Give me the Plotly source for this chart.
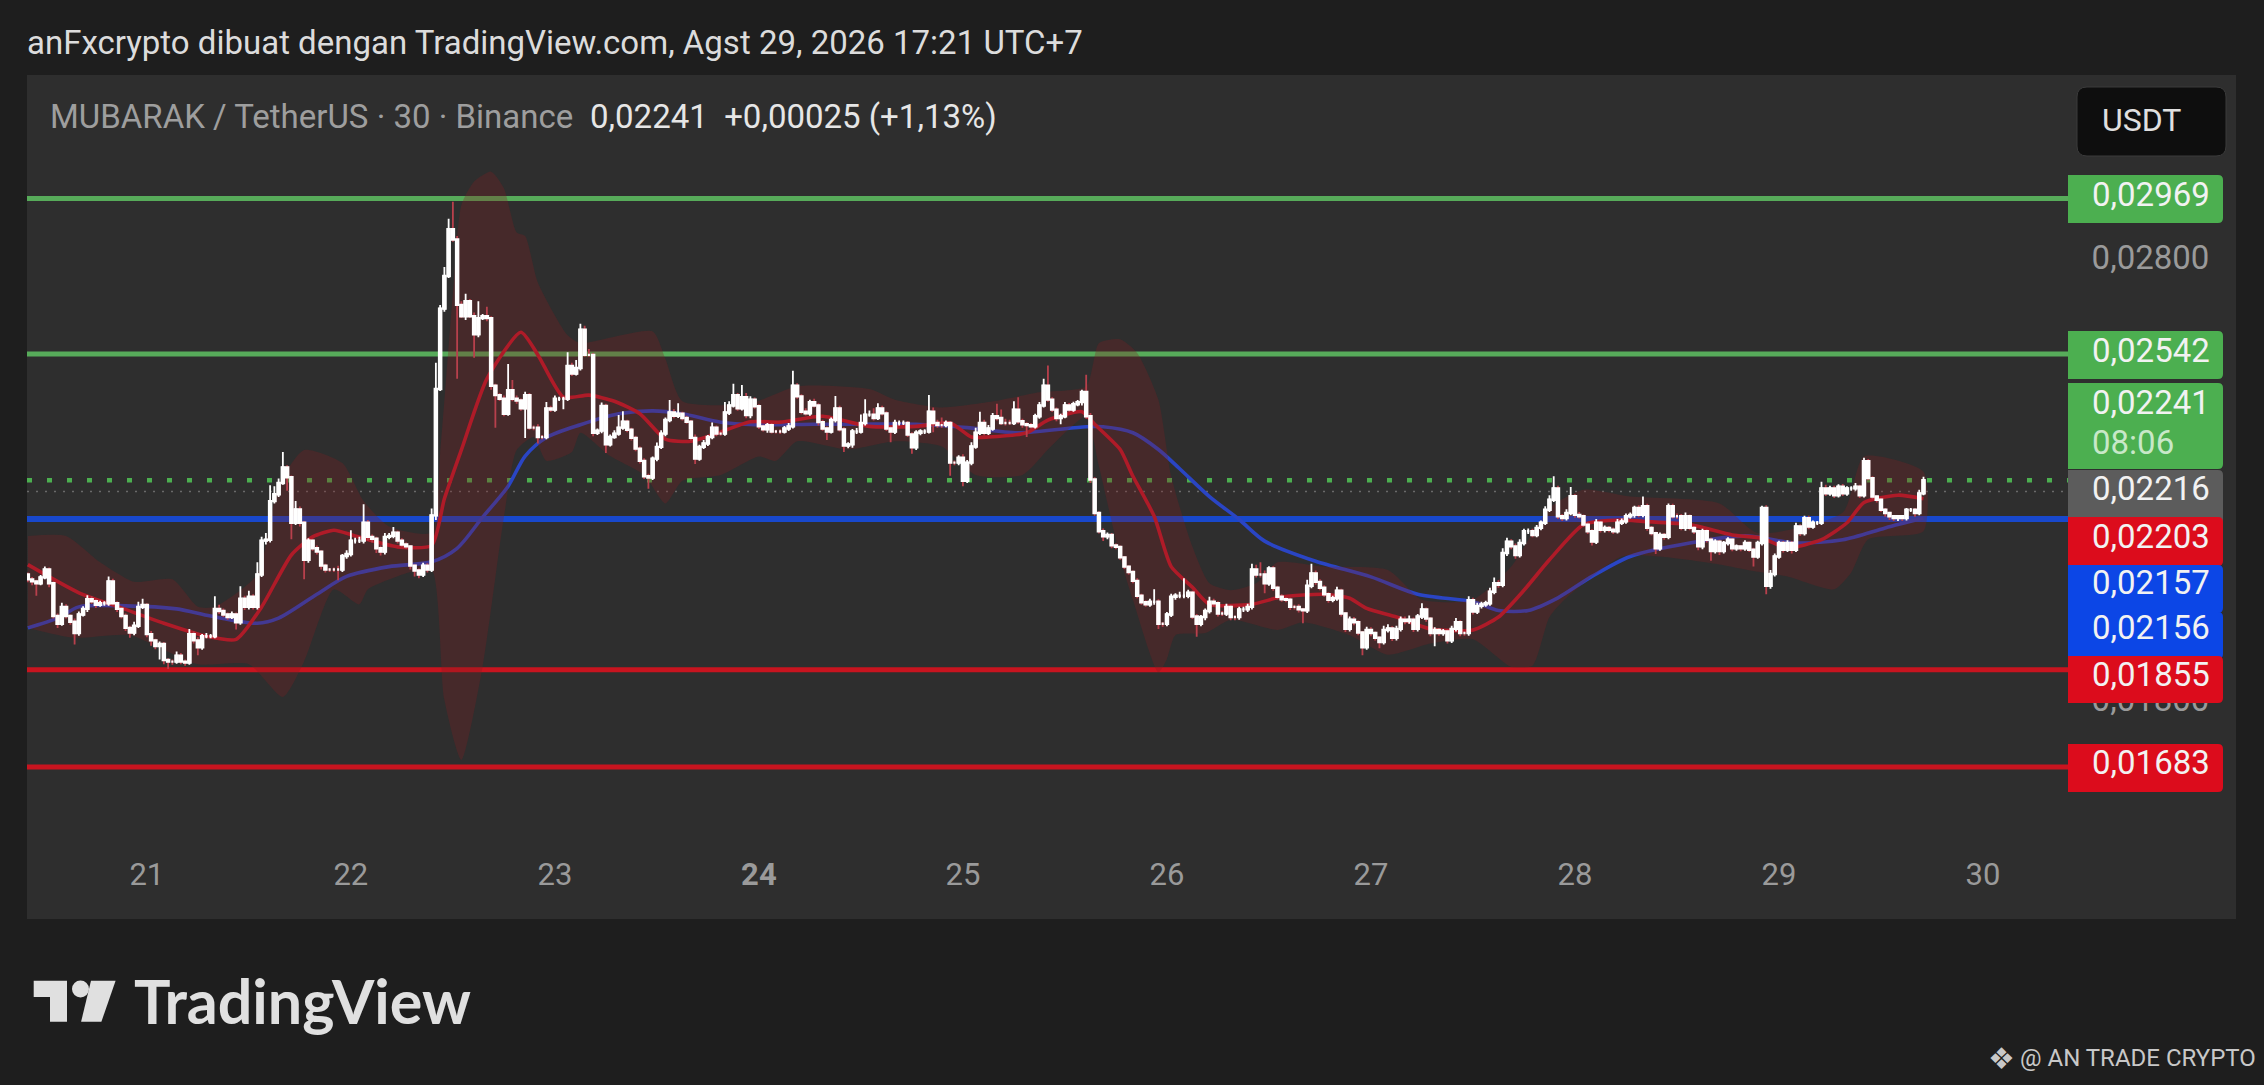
import math

import pandas as pd
import plotly.graph_objects as go

# all prices below are in 0.00001 USDT
closes = [
    2030,2026,
    2022,2034,2050,2022,1957,1942,1975,1957,1946,1924,1960,1971,1990,1986,1979,1982,1982,2026,1982,1971,
    1957,1934,1925,1938,1975,1979,1922,1910,1899,1903,1873,1870,1870,1881,1870,1868,1922,1910,1897,1918,
    1918,1918,1971,1967,1960,1955,1960,1945,1991,1975,1995,1975,2040,2110,2112,2195,2210,2235,2270,2248,
    2148,2177,2148,2070,2110,2094,2087,2058,2050,2050,2050,2050,2078,2082,2110,2110,2110,2148,2118,2114,
    2094,2087,2118,2120,2127,2110,2102,2098,2058,2048,2040,2058,2050,2164,2455,2660,2748,2880,2850,2670,
    2640,2680,2640,2593,2635,2640,2635,2463,2440,2431,2395,2452,2431,2427,2408,2440,2362,2362,2340,2340,
    2408,2405,2431,2431,2431,2512,2493,2507,2605,2540,2540,2350,2355,2414,2323,2340,2348,2362,2376,2357,
    2338,2313,2285,2250,2247,2290,2317,2348,2380,2398,2390,2395,2385,2376,2338,2290,2317,2325,2340,2362,
    2348,2348,2398,2415,2440,2408,2435,2392,2429,2413,2365,2358,2368,2353,2353,2353,2360,2365,
    2463,2437,2400,2396,2423,2415,2375,2360,2353,2380,2408,2358,2320,2323,2353,2353,2373,2393,2393,2385,
    2408,2396,2360,2353,2373,2373,2373,2346,2316,2350,2353,2353,2400,2373,2368,2368,2373,2281,2281,2292,
    2240,2281,2318,2350,2373,2350,2360,2389,2385,2373,2373,2373,2405,2377,2370,2368,2365,2389,2415,2463,
    2429,2405,2385,2389,2415,2405,2418,2423,2448,2389,2243,2169,2130,2119,2122,2100,2097,2075,2056,2045,
    2027,1997,1984,1980,1985,1985,1942,1942,1960,1995,1997,1997,1997,2003,1956,1942,1955,1967,1985,1982,
    1962,1962,1975,1955,1955,1970,1970,1975,2050,2040,2040,2022,2052,2013,1995,1990,1989,1975,1975,1970,
    1968,2017,2042,2025,2013,2000,1989,1992,2007,1962,1932,1950,1945,1925,1897,1930,1924,1915,1907,1930,
    1933,1915,1932,1950,1947,1950,1932,1956,1970,1952,1924,1930,1924,1927,1910,1932,1945,1924,1924,1988,
    1966,1977,1980,1982,2005,2022,2019,2084,2108,2098,2080,2105,2130,2130,2122,2137,2148,2176,2198,2223,
    2162,2158,2169,2206,2165,2162,2144,2130,2108,2148,2133,2137,2133,2130,2148,2151,2162,2165,2180,2165,
    2184,2137,2126,2094,2122,2118,2184,2162,2162,2137,2162,2137,2130,2098,2130,2112,2088,2108,2088,2105,
    2112,2094,2098,2094,2105,2091,2077,2105,2180,2017,2041,2077,2105,2091,2105,2091,2140,2126,2158,2140,
    2148,2148,2223,2212,2223,2208,2227,2212,2223,2223,2227,2208,2284,2246,2205,2198,2176,2169,2162,2158,
    2162,2158,2176,2176,2169,2212,2241,
]
upper_wicks = [
    4,5,
    3,5,6,4,4,5,8,5,3,6,6,5,8,6,4,5,4,10,5,4,
    3,5,4,8,10,12,3,6,3,5,4,3,4,8,5,4,10,5,6,4,
    6,4,25,8,5,4,6,4,25,6,12,5,25,8,14,35,18,10,35,5,
    4,18,6,4,5,3,6,3,4,3,4,8,4,8,22,6,8,40,6,5,
    4,6,8,6,12,4,5,4,3,3,4,6,5,15,65,10,25,30,80,10,
    10,20,6,10,45,6,25,5,5,5,8,65,25,8,5,8,5,5,8,5,
    15,6,8,5,5,35,8,20,15,10,15,5,5,8,5,6,8,30,25,5,
    5,5,5,6,6,5,10,8,6,30,8,25,5,5,4,8,5,8,5,12,
    5,5,25,10,28,5,30,10,8,5,5,4,5,5,4,5,6,8,
    37,6,5,8,6,8,5,6,5,6,30,6,5,5,6,8,20,37,10,15,
    12,6,5,5,8,6,6,5,5,6,5,5,40,10,8,18,6,5,5,6,
    8,6,10,12,27,8,8,8,30,20,10,8,20,30,6,5,5,6,8,17,
    50,6,5,6,8,6,6,5,5,42,8,5,4,6,5,4,4,3,3,3,
    3,5,4,4,6,25,5,3,5,6,5,8,35,6,4,5,4,5,10,6,
    4,5,6,4,3,5,5,6,12,10,25,8,5,5,4,5,4,4,4,5,
    3,12,20,6,5,5,4,5,8,4,3,6,5,4,3,6,5,3,3,8,
    8,4,6,6,6,8,4,5,12,4,3,5,4,5,4,6,8,4,3,8,
    5,6,5,5,8,12,6,10,8,5,6,8,5,6,5,6,5,8,10,27,
    6,5,8,20,4,6,4,5,4,8,4,5,4,5,8,6,6,5,5,6,
    21,5,4,3,5,4,6,5,6,5,8,4,4,3,5,4,4,5,4,4,
    5,3,4,3,6,3,4,5,5,6,8,6,5,4,6,4,8,5,5,5,
    5,4,15,8,6,6,5,6,5,5,8,4,8,5,4,3,3,4,3,3,
    3,3,4,4,4,8,8,
]
lower_wicks = [
    6,8,
    25,4,4,8,5,8,4,5,6,22,5,4,6,5,6,4,5,5,4,6,
    5,6,10,5,4,4,6,10,6,25,8,14,6,4,5,6,4,6,15,5,
    4,4,4,6,5,5,4,14,5,6,5,5,5,5,8,6,5,6,4,30,
    35,5,8,40,6,5,6,8,6,5,5,22,5,6,5,6,5,6,8,8,
    10,8,6,5,5,6,5,5,8,12,8,5,6,5,10,5,8,5,6,190,
    5,10,5,60,8,5,8,10,78,5,6,5,6,8,6,70,5,6,15,5,
    5,6,5,5,25,5,6,5,6,5,5,8,5,6,20,5,4,5,5,6,
    6,6,6,6,25,5,6,5,6,5,6,5,6,5,6,12,5,5,6,5,
    6,5,5,6,5,6,5,8,8,6,6,5,8,5,5,6,5,6,
    5,6,6,5,6,5,8,5,20,5,6,5,15,6,8,6,5,6,5,6,
    5,5,6,25,6,6,5,6,15,6,6,6,5,22,6,6,5,30,6,6,
    12,5,6,5,5,6,5,5,6,5,6,5,5,6,8,28,5,5,6,5,
    5,6,8,15,5,6,5,5,8,6,8,6,5,10,6,6,5,5,5,5,
    5,5,5,5,5,6,10,6,5,5,6,5,5,5,5,25,5,6,5,6,
    6,5,5,6,6,5,5,5,5,6,6,20,5,6,5,5,5,6,5,6,
    25,5,5,6,5,5,6,5,5,6,6,5,6,5,15,5,6,5,12,5,
    5,6,5,5,6,5,6,5,5,6,6,25,5,5,6,5,5,6,5,5,
    6,5,5,5,5,5,6,5,6,6,8,5,5,6,5,5,5,5,5,5,
    6,6,5,5,6,5,5,6,8,5,6,6,5,6,5,5,5,5,6,5,
    5,6,5,12,5,6,5,5,6,5,6,5,6,8,6,6,20,5,8,5,
    5,6,5,6,5,5,21,5,5,17,6,5,5,6,5,8,5,6,5,6,
    5,5,5,6,5,6,5,6,5,5,5,6,5,5,6,6,5,8,8,6,
    6,6,5,5,8,5,4,
]
assert len(closes) == len(upper_wicks) == len(lower_wicks) == 447

fast_idx = [0,12,22,32,42,49,55,62,67,72,77,87,95,98,102,108,116,120,126,132,138,144,150,156,162,170,
            177,187,198,209,217,222,226,235,240,248,251,257,260,265,269,274,278,288,295,305,311,315,322,330,340,
            346,352,358,366,375,380,391,401,408,414,422,428,432,440,446]
fast_ma = [2060,2003,1973,1943,1918,1912,1975,2080,2118,2132,2120,2097,2100,2200,2310,2480,2598,2540,2435,2440,2425,2395,2335,2330,2348,2376,
           2375,2389,2365,2365,2373,2340,2340,2350,2380,2400,2370,2311,2250,2162,2056,2014,1980,1980,1995,2000,1992,1972,1955,1932,1930,
           1955,2008,2070,2144,2154,2151,2144,2122,2115,2095,2112,2148,2192,2208,2200]
slow_idx = [0,7,12,23,35,43,54,59,68,75,85,95,101,107,113,117,122,130,139,147,154,163,171,
            185,195,209,221,233,249,253,260,266,271,278,285,291,303,316,327,340,346,353,360,368,377,391,404,416,427,437,446]
slow_ma = [1934,1953,1975,1977,1971,1957,1943,1953,2000,2036,2056,2066,2094,2160,2228,2296,2339,2369,2395,2402,2395,2375,2369,
           2370,2370,2370,2362,2350,2364,2364,2350,2311,2267,2205,2155,2109,2067,2035,2000,1985,1968,1968,1993,2036,2077,2105,2120,2105,2112,2137,2158]
band_up_idx = [0,9,17,25,34,40,44,54,59,65,74,79,85,95,97,100,102,105,109,112,115,117,120,127,130,147,150,154,170,
               181,198,204,215,226,238,249,252,257,261,266,269,274,278,283,289,294,305,320,328,340,349,358,366,377,398,407,427,432,446]
band_up = [2120,2120,2065,2025,2030,1975,1975,2040,2230,2310,2280,2195,2140,2127,2300,2700,2950,3020,3050,3000,2870,2860,2730,2590,2570,2600,2530,2425,2420,
           2462,2455,2429,2410,2423,2447,2462,2570,2580,2545,2429,2250,2097,2022,2008,2022,2065,2056,2049,1989,1989,2056,2180,2220,2205,2190,2126,2170,2295,2260]
band_lo_idx = [0,11,24,40,52,60,65,72,78,80,90,95,98,102,107,112,115,119,122,128,130,137,145,150,154,163,172,
               176,181,193,204,215,223,234,240,244,249,252,257,260,266,268,270,277,283,294,300,311,320,330,340,349,354,358,362,375,384,397,406,414,425,429,433,446]
band_lo = [1934,1915,1920,1865,1865,1805,1870,2010,1980,2010,2045,2050,1800,1695,1860,2160,2310,2340,2285,2305,2350,2296,2253,2190,2240,2253,2295,
           2285,2330,2311,2330,2318,2253,2253,2311,2350,2389,2273,2075,1989,1850,1875,1920,1924,1950,1930,1945,1920,1883,1904,1912,1860,1862,1955,1993,2077,2077,2062,2047,2036,2010,2044,2113,2130]

green_levels = [0.02969, 0.02542]
red_levels = [0.01855, 0.01683]
blue_level = [0.02156]
last_price = [0.02241]
prev_close = [0.02216]
axis_ticks = [0.028, 0.018]
axis_labels = ["0,02800", "0,01800"]
days = ["2026-08-%d" % d for d in range(21, 31)]
day_labels = ["21", "22", "23", "<b>24</b>", "25", "26", "27", "28", "29", "30"]

W, H = 2264, 1085
L, R, T, B = 27, 2068, 75, 853
BG = "#1e1e1e"
PANEL = "#2e2e2e"
GREEN, RED, BLUE, GREY = "#4caf50", "#dc0c1c", "#0c46e6", "#5c5c5c"
FONT = "Roboto"

times = pd.date_range("2026-08-20 10:00", periods=len(closes), freq="30min")
x_range = ["2026-08-20 09:54", "2026-08-30 10:00"]


def px(v):
    return (v - L) / (R - L)


def py(v):
    return (B - v) / (B - T)


# log10 range worked out from where the 0.02969 line sits and the px per ln(price)
k = 1001.5
y_top = math.log10(0.02969 * math.exp((198.6 - T) / k))
y_bot = math.log10(0.02969 * math.exp((198.6 - B) / k))

fig = go.Figure()

for lev in green_levels:
    fig.add_trace(go.Scatter(x=x_range, y=[lev, lev], mode="lines", line=dict(color="#57ab5a", width=5)))
for lev in red_levels:
    fig.add_trace(go.Scatter(x=x_range, y=[lev, lev], mode="lines", line=dict(color="#c8141f", width=5)))
fig.add_trace(go.Scatter(x=x_range, y=blue_level * 2, mode="lines", line=dict(color="#1848cc", width=6)))
fig.add_trace(go.Scatter(x=x_range, y=last_price * 2, mode="lines", line=dict(color="#4caf50", width=4.5, dash="5px,15px")))
fig.add_trace(go.Scatter(x=x_range, y=prev_close * 2, mode="lines", line=dict(color="#6a6a6a", width=1.5, dash="2px,7px")))

fig.add_trace(go.Scatter(x=[times[i] for i in slow_idx], y=[v / 1e5 for v in slow_ma], mode="lines",
                         line=dict(color="#2a45c4", width=3.6, shape="spline", smoothing=0.8)))
fig.add_trace(go.Scatter(x=[times[i] for i in fast_idx], y=[v / 1e5 for v in fast_ma], mode="lines",
                         line=dict(color="#c41a2c", width=3.6, shape="spline", smoothing=0.6)))
band_x = [times[i] for i in band_up_idx] + [times[i] for i in band_lo_idx[::-1]]
band_y = [v / 1e5 for v in band_up] + [v / 1e5 for v in band_lo[::-1]]
fig.add_trace(go.Scatter(x=band_x, y=band_y, mode="lines", fill="toself", fillcolor="rgba(126,29,32,0.30)",
                         line=dict(width=0, shape="spline", smoothing=0.6)))

opens = [2040] + closes[:-1]
highs = [max(o, c) + u for o, c, u in zip(opens, closes, upper_wicks)]
lows = [min(o, c) - d for o, c, d in zip(opens, closes, lower_wicks)]
# candles sit on an overlaying pair of axes, else the scatter layer (band) paints over them
# first pass gives the wicks, second pass puts a white body on top
fig.add_trace(go.Candlestick(x=times, open=[v / 1e5 for v in opens], close=[v / 1e5 for v in closes],
                             high=[v / 1e5 for v in highs], low=[v / 1e5 for v in lows], whiskerwidth=0,
                             xaxis="x2", yaxis="y2",
                             increasing=dict(line=dict(color="#ffffff", width=1.8), fillcolor="#ffffff"),
                             decreasing=dict(line=dict(color="#b8404c", width=1.8), fillcolor="#ffffff")))
fig.add_trace(go.Candlestick(x=times, open=[v / 1e5 for v in opens], close=[v / 1e5 for v in closes],
                             high=[max(o, c) / 1e5 for o, c in zip(opens, closes)],
                             low=[min(o, c) / 1e5 for o, c in zip(opens, closes)], whiskerwidth=0,
                             xaxis="x2", yaxis="y2",
                             increasing=dict(line=dict(color="#ffffff", width=2.4), fillcolor="#ffffff"),
                             decreasing=dict(line=dict(color="#ffffff", width=2.4), fillcolor="#ffffff")))


def round_rect(x0, y0, x1, y1, color, r=5, layer="above"):
    # pixel box to a paper path with rounded right corners
    rx, ry = r / (R - L), r / (B - T)
    a, b, c, d = px(x0), px(x1), py(y0), py(y1)
    path = (f"M{a},{c} L{b - rx},{c} Q{b},{c} {b},{c - ry} L{b},{d + ry} Q{b},{d} {b - rx},{d} L{a},{d} Z")
    return dict(type="path", path=path, xref="paper", yref="paper", fillcolor=color, line=dict(width=0), layer=layer)


shapes = [dict(type="rect", xref="paper", yref="paper", x0=px(27), x1=px(2236), y0=py(75), y1=py(919),
               fillcolor=PANEL, line=dict(width=0), layer="below")]
label_x0, label_x1 = 2068, 2223
for y0, y1, col in [(175, 223, GREEN), (331, 379, GREEN), (470, 534, GREY), (383, 469, GREEN), (517, 566, RED),
                    (565, 613, BLUE), (612, 659, BLUE), (656, 703, RED), (744, 792, RED)]:
    shapes.append(round_rect(label_x0, y0, label_x1, y1, col))
# USDT button
bx0, bx1, by0, by1 = 2077, 2226, 87, 156
rx, ry = 10 / (R - L), 10 / (B - T)
shapes.append(dict(type="path", xref="paper", yref="paper", fillcolor="#0e0e0e", line=dict(color="#3a3a3a", width=1),
                   path=f"M{px(bx0) + rx},{py(by0)} L{px(bx1) - rx},{py(by0)} Q{px(bx1)},{py(by0)} {px(bx1)},{py(by0) - ry} "
                        f"L{px(bx1)},{py(by1) + ry} Q{px(bx1)},{py(by1)} {px(bx1) - rx},{py(by1)} "
                        f"L{px(bx0) + rx},{py(by1)} Q{px(bx0)},{py(by1)} {px(bx0)},{py(by1) + ry} "
                        f"L{px(bx0)},{py(by0) - ry} Q{px(bx0)},{py(by0)} {px(bx0) + rx},{py(by0)} Z"))
# logo mark
logo = "#e0e0e0"
shapes.append(dict(type="path", xref="paper", yref="paper", fillcolor=logo, line=dict(width=0),
                   path=f"M{px(33.7)},{py(980.7)} L{px(67)},{py(980.7)} L{px(67)},{py(1021.7)} L{px(50)},{py(1021.7)} "
                        f"L{px(50)},{py(997)} L{px(33.7)},{py(997)} Z"))
shapes.append(dict(type="circle", xref="paper", yref="paper", fillcolor=logo, line=dict(width=0),
                   x0=px(72), x1=px(89), y0=py(997.5), y1=py(980.5)))
shapes.append(dict(type="path", xref="paper", yref="paper", fillcolor=logo, line=dict(width=0),
                   path=f"M{px(91)},{py(980.7)} L{px(115.6)},{py(980.7)} L{px(101.4)},{py(1021.7)} L{px(81.1)},{py(1021.7)} Z"))


def text(x, y, s, size=33, color="#ffffff", anchor="left", family=FONT, weight=None):
    return dict(x=px(x), y=py(y), xref="paper", yref="paper", text=s, showarrow=False, xanchor=anchor, yanchor="middle",
                align=anchor, font=dict(family=family, size=size, color=color, weight=weight), borderpad=0, borderwidth=0)


annots = [
    text(27, 42, "anFxcrypto dibuat dengan TradingView.com, Agst 29, 2026 17:21 UTC+7", size=33, color="#dcdcdc"),
    text(50, 117, "MUBARAK / TetherUS · 30 · Binance", size=33, color="#9e9e9e"),
    text(590, 117, "0,02241\u00a0\u00a0+0,00025 (+1,13%)", size=33, color="#e6e6e6"),
    text(2102, 120, "USDT", size=32, color="#e0e0e0"),
    text(134, 1001, "TradingView", size=61, color=logo, family="Lato", weight="bold"),
    text(2256, 1058, "@ AN TRADE CRYPTO", size=24, color="#c8c8c8", anchor="right"),
    text(1988, 1058, "❖", size=30, color="#c8c8c8", family="DejaVu Sans"),
]
label_texts = [("0,02969", 195), ("0,02542", 351), ("0,02241", 403), ("0,02216", 488), ("0,02203", 536),
               ("0,02157", 582), ("0,02156", 627), ("0,01855", 674), ("0,01683", 762)]
for s, y in label_texts:
    annots.append(text(2092, y, s, color="#f2f2f2"))
annots.append(text(2092, 442, "08:06", color="#c8e8c8"))

fig.update_layout(
    width=W, height=H, margin=dict(l=L, r=W - R, t=T, b=H - B), showlegend=False,
    paper_bgcolor=BG, plot_bgcolor="rgba(0,0,0,0)", shapes=shapes, annotations=annots,
    xaxis=dict(type="date", range=x_range, rangeslider=dict(visible=False), showgrid=False, zeroline=False, showline=False,
               tickmode="array", tickvals=days, ticktext=day_labels, ticks="",
               tickfont=dict(family=FONT, size=31, color="#9a9a9a")),
    yaxis=dict(type="log", range=[y_bot, y_top], side="right", showgrid=False, zeroline=False, showline=False,
               tickmode="array", tickvals=axis_ticks, ticktext=axis_labels, ticks="outside", ticklen=16,
               tickcolor="rgba(0,0,0,0)", tickfont=dict(family=FONT, size=33, color="#9a9a9a")),
    xaxis2=dict(type="date", range=x_range, overlaying="x", visible=False, rangeslider=dict(visible=False)),
    yaxis2=dict(type="log", range=[y_bot, y_top], overlaying="y", side="right", visible=False),
)

fig.write_html("out.html", config=dict(displayModeBar=False),
               post_script="document.body.style.margin='0';document.body.style.background='%s';" % BG)
